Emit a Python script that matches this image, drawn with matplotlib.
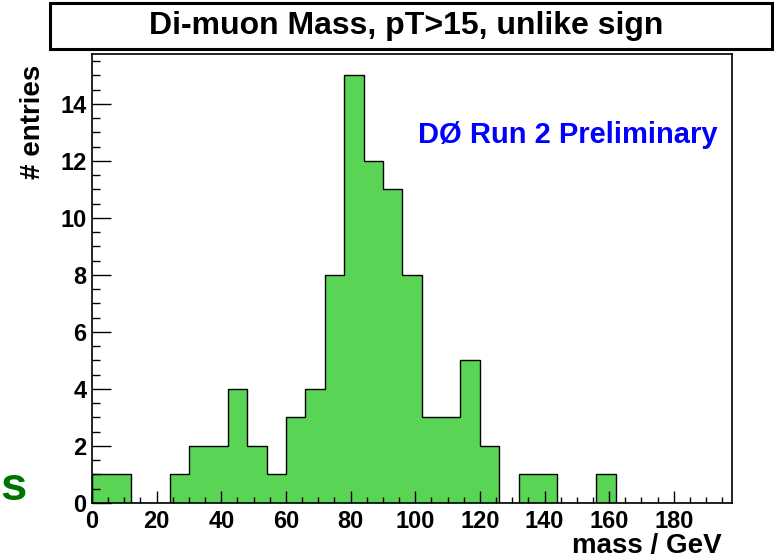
import numpy as np
import matplotlib
matplotlib.use("Agg")
import matplotlib.pyplot as plt
from matplotlib.patches import Rectangle
from matplotlib.ticker import MultipleLocator

# bin edges 0..198 in steps of 6 GeV
bin_edges = np.arange(0, 199, 6)
counts = [1, 1, 0, 0, 1, 2, 2, 4, 2, 1, 3, 4, 8, 15, 12, 11, 8, 3, 3, 5, 2,
          0, 1, 1, 0, 0, 1, 0, 0, 0, 0, 0, 0]
x_ticks = [0, 20, 40, 60, 80, 100, 120, 140, 160, 180]
y_ticks = [0, 2, 4, 6, 8, 10, 12, 14]

title = "Di-muon Mass, pT>15, unlike sign"
x_label = "mass / GeV"
y_label = "# entries"
tag = "DØ Run 2 Preliminary"

plt.rcParams['font.family'] = ['Liberation Sans', 'DejaVu Sans']
plt.rcParams['font.weight'] = 'bold'

W, H = 775, 560
fig = plt.figure(figsize=(W / 100, H / 100), dpi=100)
ax = fig.add_axes([92 / W, (H - 503) / H, (732 - 92) / W, (503 - 54) / H])

ax.stairs(counts, bin_edges, fill=True, color='#59d454', baseline=0)
ax.stairs(counts, bin_edges, fill=False, color='black', linewidth=1.0, baseline=0)

ax.set_xlim(0, 198)
ax.set_ylim(0, 15.75)
ax.set_xticks(x_ticks)
ax.set_yticks(y_ticks)
ax.xaxis.set_minor_locator(MultipleLocator(5))
ax.yaxis.set_minor_locator(MultipleLocator(0.5))
ax.tick_params(axis='x', which='major', direction='in', length=9, width=1, pad=5, labelsize=17)
ax.tick_params(axis='x', which='minor', direction='in', length=4.5, width=1)
ax.tick_params(axis='y', which='major', direction='in', length=13.5, width=1, pad=4, labelsize=17)
ax.tick_params(axis='y', which='minor', direction='in', length=6, width=1)
for lab in ax.get_xticklabels() + ax.get_yticklabels():
    lab.set_fontweight('bold')
for sp in ax.spines.values():
    sp.set_linewidth(1.2)

# title box with shadow
fig.add_artist(Rectangle((50 / W, (H - 49) / H), 722 / W, 46 / H, transform=fig.transFigure,
                         facecolor='white', edgecolor='black', linewidth=2.2, zorder=1))
fig.text(406 / W, (H - 26) / H, title, ha='center', va='center', fontsize=23,
         fontweight='bold')

fig.text(33 / W, (H - 122) / H, y_label, rotation=90, ha='center', va='center',
         fontsize=20, fontweight='bold')
fig.text(722 / W, (H - 546) / H, x_label, ha='right', va='center', fontsize=20, fontweight='bold')
ax.text(0.978, 0.82, tag, transform=ax.transAxes, ha='right', va='center',
        color='#0000ff', fontsize=21, fontweight='bold')

# stray green letter from the slide at the left edge
fig.text(0 / W, (H - 488) / H, "s", ha='left', va='center', color='#007400',
         fontsize=34, fontweight='bold')

fig.savefig("out.png", dpi=100)
